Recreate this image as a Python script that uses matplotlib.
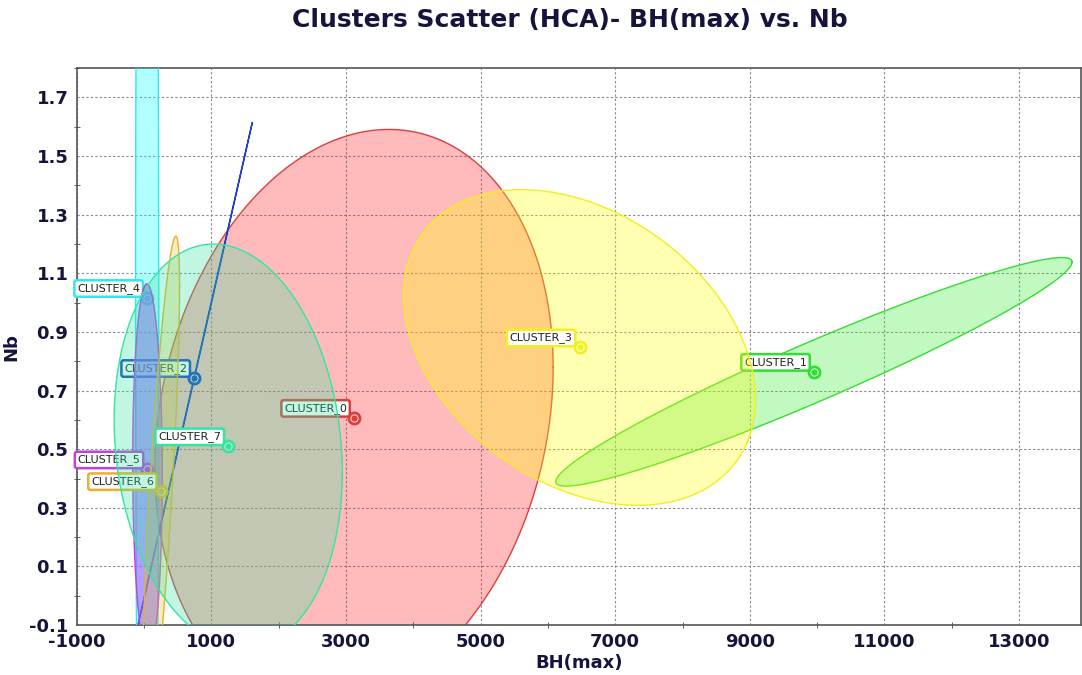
import numpy as np
import matplotlib
matplotlib.use("Agg")
import matplotlib.pyplot as plt

plt.rcParams["axes.unicode_minus"] = False

# cluster data
cluster_names = ["CLUSTER_0", "CLUSTER_1", "CLUSTER_2", "CLUSTER_3",
                 "CLUSTER_4", "CLUSTER_5", "CLUSTER_6", "CLUSTER_7"]
center_bh = [3119, 9953, 744, 6470, 45, 50, 249, 1250]
center_nb = [0.607, 0.764, 0.743, 0.847, 1.016, 0.431, 0.357, 0.510]
# ellipse spread (half extent along each axis) and correlation
spread_bh = [2959, 3836, 863, 2615, 172, 220, 278, 1695]
spread_nb = [0.984, 0.39, 0.871, 0.5385, 3.0, 0.633, 0.87, 0.69]
corr = [0.175, 0.96, 0.99999, -0.33, -0.01, -0.04, 0.80, -0.13]

edge_colors = ["#d84040", "#33dd33", "#2040c0", "#f0f020",
               "#30e8f0", "#c040e0", "#e8b030", "#33e6a0"]
face_colors = ["#ff2020", "#33ee33", "#2040c0", "#ffff00",
               "#00ffff", "#b040ff", "#e8c030", "#33e6a0"]
face_alpha = [0.3, 0.3, 0.3, 0.3, 0.3, 0.5, 0.3, 0.3]

navy = "#14143c"

fig = plt.figure(figsize=(10.82, 6.75), dpi=100)
ax = fig.add_axes([0.071, 0.074, 0.928, 0.825])

t = np.linspace(0, 2 * np.pi, 600)
for i, name in enumerate(cluster_names):
    r = corr[i]
    ex = center_bh[i] + spread_bh[i] * np.cos(t)
    ey = center_nb[i] + spread_nb[i] * (r * np.cos(t) + np.sqrt(1 - r * r) * np.sin(t))
    ax.fill(ex, ey, facecolor=face_colors[i], alpha=face_alpha[i], zorder=2 + i)
    ax.plot(ex, ey, color=edge_colors[i], lw=1.0, zorder=2 + i)

    # center marker
    ax.plot(center_bh[i], center_nb[i], marker="o", ms=8, mfc=(1, 1, 1, 0.5),
            mec=edge_colors[i], mew=2, zorder=2 + i)
    ax.plot(center_bh[i], center_nb[i], marker="o", ms=3.5, color=edge_colors[i],
            zorder=2 + i)

    ax.annotate(name, (center_bh[i], center_nb[i]), xytext=(-7, 4),
                textcoords="offset pixels", ha="right", va="bottom",
                fontsize=8, color="#202020", zorder=2 + i,
                bbox=dict(boxstyle="round,pad=0.25,rounding_size=0.2",
                          fc="white", ec=edge_colors[i], lw=1.8))

ax.set_xlim(-1000, 13920)
ax.set_ylim(-0.1, 1.8)
ax.set_xticks(np.arange(-1000, 13001, 2000))
ax.set_yticks(np.arange(-0.1, 1.71, 0.2))
ax.set_yticklabels([f"{v:.1f}" for v in np.arange(-0.1, 1.71, 0.2)])
ax.set_xticks(np.arange(0, 13001, 2000), minor=True)
ax.set_yticks(np.arange(0.0, 1.81, 0.2), minor=True)
ax.tick_params(which="major", length=0, pad=6, labelsize=13, labelcolor=navy)
ax.tick_params(which="minor", length=5, direction="inout", color="#444444")
for lab in ax.get_xticklabels() + ax.get_yticklabels():
    lab.set_fontweight("bold")

ax.grid(True, which="major", color="#888888", linestyle=(0, (2, 2)), lw=0.8, zorder=1)
ax.set_axisbelow(True)
for sp in ax.spines.values():
    sp.set_color("#555555")
    sp.set_linewidth(1.2)

ax.set_xlabel("BH(max)", fontsize=13, fontweight="bold", color=navy, labelpad=2)
ax.set_ylabel("Nb", fontsize=13, fontweight="bold", color=navy, labelpad=6)
fig.suptitle("Clusters Scatter (HCA)- BH(max) vs. Nb", fontsize=18,
             fontweight="bold", color=navy, x=0.527, y=0.988)

fig.savefig("out.png", dpi=100)
